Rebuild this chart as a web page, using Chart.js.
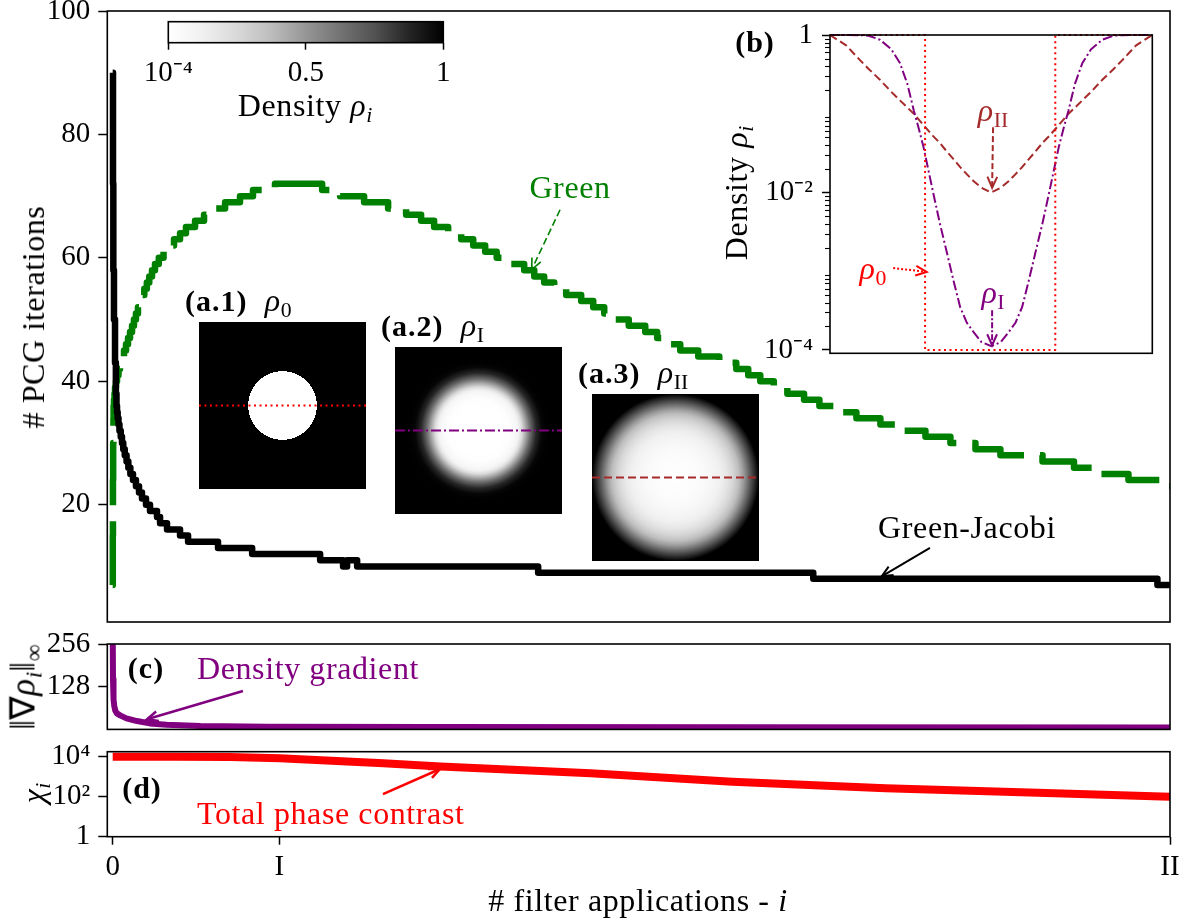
<!DOCTYPE html>
<html lang="en">
<head>
<meta charset="utf-8">
<title>PCG iterations vs filter applications</title>
<script src="https://cdn.jsdelivr.net/npm/chart.js@4.4.1/dist/chart.umd.min.js"></script>
<style>
  html, body { margin: 0; padding: 0; background: #fff; }
  #fig { position: relative; width: 1191px; height: 920px; overflow: hidden;
         font-family: 'Liberation Serif', 'Times New Roman', serif; color: #000; }
  #fig canvas { position: absolute; }
  .t { position: absolute; white-space: nowrap; line-height: 1; font-size: 32px; letter-spacing: 0.6px;
       transform: translate(-50%, -50%); }
  .t.l { transform: translate(0, -50%); }
  .t.r90 { transform: translate(-50%, -50%) rotate(-90deg); }
  .t.b, .t b { font-weight: bold; font-size: 30px; letter-spacing: 1px; }
  .t sub { font-size: 68%; vertical-align: -0.28em; line-height: 0; letter-spacing: 0; }
</style>
</head>
<body>
<div id="fig">
  <canvas id="mainChart" width="1191" height="630" style="left:0;top:0"></canvas>
  <canvas id="img0" width="167" height="167" style="left:199px;top:322px"></canvas>
  <canvas id="img1" width="167" height="167" style="left:395px;top:347px"></canvas>
  <canvas id="img2" width="167" height="167" style="left:592px;top:394px"></canvas>
  <canvas id="cbChart" width="360" height="120" style="left:130px;top:0"></canvas>
  <canvas id="insetChart" width="480" height="370" style="left:700px;top:0"></canvas>
  <canvas id="gradChart" width="1191" height="110" style="left:0;top:630px"></canvas>
  <canvas id="chiChart" width="1191" height="180" style="left:0;top:740px"></canvas>

  <div class="t r90" style="left:33px;top:317px"># PCG iterations</div>
  <div class="t l" style="left:185px;top:300px"><b>(a.1)</b>&nbsp;&nbsp;<i>ρ</i><sub>0</sub></div>
  <div class="t l" style="left:381px;top:325px"><b>(a.2)</b>&nbsp;&nbsp;<i>ρ</i><sub>I</sub></div>
  <div class="t l" style="left:578px;top:372px"><b>(a.3)</b>&nbsp;&nbsp;<i>ρ</i><sub>II</sub></div>
  <div class="t" style="left:570px;top:187px;color:#008000">Green</div>
  <div class="t" style="left:967px;top:527px">Green-Jacobi</div>
  <div class="t" style="left:305px;top:105px">Density <i>ρ<sub>i</sub></i></div>

  <div class="t b" style="left:755px;top:42px">(b)</div>
  <div class="t r90" style="left:736px;top:193px">Density <i>ρ<sub>i</sub></i></div>
  <div class="t" style="left:993px;top:110px;color:#a52a2a"><i>ρ</i><sub>II</sub></div>
  <div class="t" style="left:873px;top:268px;color:#ff0000"><i>ρ</i><sub>0</sub></div>
  <div class="t" style="left:993px;top:292px;color:#800080"><i>ρ</i><sub>I</sub></div>

  <div class="t b" style="left:146px;top:668px">(c)</div>
  <div class="t l" style="left:197px;top:668px;color:#800080">Density gradient</div>
  <div class="t r90" style="left:23px;top:687px;font-size:35px">‖∇<i>ρ<sub>i</sub></i>‖<sub>∞</sub></div>

  <div class="t b" style="left:142px;top:788px">(d)</div>
  <div class="t l" style="left:197px;top:813px;color:#ff0000">Total phase contrast</div>
  <div class="t r90" style="left:33px;top:793px"><i>χ<sub>i</sub></i></div>

  <div class="t" style="left:638px;top:900px"># filter applications - <i>i</i></div>
</div>

<script>
// 1. Data
const ITER_I = 157.6;
const ITER_II = 1000;
const X_MIN = -5.1;
const xTickValues = [0, ITER_I, ITER_II];
const xTickLabels = ['0', 'I', 'II'];

// PCG iterations, Green-Jacobi preconditioner (black)
const gjX = [0, 0.3, 0.6, 1.2, 2.2, 3.0, 3.6, 4.1, 4.7, 5.5, 6.4, 7.6, 8.8, 10.0, 11.4, 13.1, 14.8, 16.7, 19.2, 22.0,
  24.9, 27.7, 31.5, 35.3, 41.9, 44.8, 51.4, 63.7, 71.3, 99.6,
  131.9, 196.2, 217.9, 221.7, 231.2, 402.4, 662.6, 988.1, 1000];
const gjY = [90, 72, 58, 50, 43, 38, 36, 35, 34, 33, 32, 31, 30, 29, 28, 27, 26, 25, 24, 23,
  22, 21, 20, 19, 18, 17, 16, 15, 14, 13,
  12, 11, 10, 11, 10, 9, 8, 7, 7];

// PCG iterations, Green preconditioner (green, dashed)
const greenX = [0, 0.1, 0.25, 0.45, 0.7, 0.85, 1.2, 1.7, 2.2, 3.1, 4.1, 5.5, 6.9, 8.8, 10.7, 12.6, 14.5, 16.4, 18.3, 20.1,
  22.0, 23.9, 25.8, 27.9, 29.9, 32.3, 34.6, 37.2, 40.0, 43.6, 48.1, 52.8, 58.0, 63.7, 69.3, 77.9, 86.4, 96.8, 106.3, 120.4,
  132.7, 153.5,
  198.1, 215.1, 237.8, 260.5, 277.5, 291.7, 304, 317.3, 329.6, 341, 352.3, 363.2, 376, 389.2, 398.7, 408.1, 417.6, 428.9,
  443.1, 454.5, 464.9, 474.8, 488.1, 503.7, 515, 525.4, 536.8, 553.8, 573.7, 589.8, 601.1, 612.5, 625.3, 638.1, 653.9,
  668.4, 682.6, 703.4, 726.1, 746.4, 768.7, 792.3, 816, 839.6, 879.4, 909.2, 934.2, 960.7, 991, 1000];
const greenY = [7, 15, 24, 30, 34, 36, 37, 38, 39, 40, 41, 42, 43, 44, 45, 46, 47, 48, 49, 50,
  51, 52, 53, 54, 55, 56, 57, 58, 59, 60, 61, 62, 63, 64, 65, 66, 67, 68, 69, 70,
  71, 72,
  71, 70, 69, 68, 67, 66, 65, 64, 63, 62, 61, 60, 59, 58, 57, 56, 55, 54,
  53, 52, 51, 50, 49, 48, 47, 46, 45, 44, 43, 42, 41, 40, 39, 38, 37,
  36, 35, 34, 33, 32, 31, 30, 29, 28, 27, 26, 25, 24, 23, 23];
const pcgTicks = [20, 40, 60, 80, 100];

// (c) density gradient
const gradX = [0, 0.3, 0.8, 1.5, 2.5, 4, 7, 13, 23, 35, 51, 83, 146, 300, 600, 1000];
const gradY = [300, 150, 90, 70, 56, 48, 42, 33, 25, 18, 14, 10, 8, 7, 6.5, 6];
const gradTicks = [128, 256];
const gradTickLabels = ['128', '256'];

// (d) total phase contrast
const chiX = [0, 60, 111, 158, 207, 256, 310, 452, 586, 731, 875, 1000];
const chiY = [10000, 9900, 9550, 8300, 6300, 4700, 3200, 1480, 560, 263, 158, 100];
const chiTicks = [1, 100, 10000];
const chiTickLabels = ['1', '10²', '10⁴'];

// (b) density profiles along the image mid line
const profileX = [0, 0.05, 0.093, 0.12, 0.155, 0.19, 0.217, 0.24, 0.26, 0.275, 0.29, 0.32, 0.34, 0.363, 0.385, 0.404, 0.425, 0.445, 0.47, 0.5,
  0.53, 0.555, 0.575, 0.596, 0.615, 0.637, 0.66, 0.68, 0.71, 0.725, 0.74, 0.76, 0.783, 0.81, 0.845, 0.88, 0.907, 0.95, 1];
const rhoI = [1, 1, 0.995, 0.98, 0.87, 0.66, 0.44, 0.24, 0.11, 0.066, 0.038, 0.01, 0.0042, 0.0017, 7.1e-4, 3.5e-4, 2.2e-4, 1.7e-4, 1.26e-4, 1.12e-4,
  1.26e-4, 1.7e-4, 2.2e-4, 3.5e-4, 7.1e-4, 0.0017, 0.0042, 0.01, 0.038, 0.066, 0.11, 0.24, 0.44, 0.66, 0.87, 0.98, 0.995, 1, 1];
const rhoII = [1, 0.74, 0.48, 0.37, 0.27, 0.19, 0.148, 0.12, 0.1, 0.085, 0.072, 0.052, 0.043, 0.033, 0.026, 0.021, 0.017, 0.014, 0.0115, 0.01,
  0.0115, 0.014, 0.017, 0.021, 0.026, 0.033, 0.043, 0.052, 0.072, 0.085, 0.1, 0.12, 0.148, 0.19, 0.27, 0.37, 0.48, 0.74, 1];
const rho0X = [0, 0.295, 0.295, 0.699, 0.699, 1];
const rho0 = [1, 1, 1e-4, 1e-4, 1, 1];
const insetTicks = [1e-4, 1e-2, 1];
const insetTickLabels = ['10⁻⁴', '10⁻²', '1'];

// colour bar (Greys)
const greysStops = ['#ffffff', '#f0f0f0', '#d9d9d9', '#bdbdbd', '#969696', '#737373', '#525252', '#252525', '#000000'];
const cbTicks = [1e-4, 0.5, 1];
const cbTickLabels = ['10⁻⁴', '0.5', '1'];

// 2. Chart.js defaults
Chart.defaults.font.family = "'Liberation Serif', 'Times New Roman', serif";
Chart.defaults.font.size = 29;
Chart.defaults.color = '#000';
Chart.defaults.animation = false;
Chart.defaults.responsive = false;
Chart.defaults.plugins.legend.display = false;
Chart.defaults.plugins.tooltip.enabled = false;
Chart.defaults.elements.point.radius = 0;
Chart.defaults.elements.line.borderJoinStyle = 'round';

const pts = (xs, ys) => xs.map((x, i) => ({ x, y: ys[i] }));

// axes frame (drawn over the lines, like matplotlib spines)
Chart.register({
  id: 'frame',
  beforeDatasetsDraw(chart, args, opts) {
    if (!opts.fill) return;
    const { ctx, chartArea: a } = chart;
    ctx.save();
    ctx.fillStyle = opts.fill;
    ctx.fillRect(a.left, a.top, a.width, a.height);
    ctx.restore();
  },
  afterDatasetsDraw(chart) {
    const { ctx, chartArea: a } = chart;
    ctx.save();
    ctx.strokeStyle = '#000';
    ctx.lineWidth = 1.6;
    ctx.strokeRect(a.left, a.top, a.width, a.height);
    ctx.restore();
  }
});

// annotate-style arrows, given in data coordinates
function arrowPlugin(list) {
  return {
    id: 'arrows',
    afterDraw(chart) {
      const { ctx, scales: { x, y } } = chart;
      list.forEach(a => {
        const x0 = x.getPixelForValue(a.from[0]), y0 = y.getPixelForValue(a.from[1]);
        const x1 = x.getPixelForValue(a.to[0]), y1 = y.getPixelForValue(a.to[1]);
        const ang = Math.atan2(y1 - y0, x1 - x0), L = 12, w = 0.42;
        ctx.save();
        ctx.strokeStyle = a.color;
        ctx.lineWidth = a.width;
        ctx.setLineDash(a.dash || []);
        ctx.beginPath(); ctx.moveTo(x0, y0); ctx.lineTo(x1, y1); ctx.stroke();
        ctx.setLineDash([]);
        ctx.beginPath();
        ctx.moveTo(x1 - L * Math.cos(ang - w), y1 - L * Math.sin(ang - w));
        ctx.lineTo(x1, y1);
        ctx.lineTo(x1 - L * Math.cos(ang + w), y1 - L * Math.sin(ang + w));
        ctx.stroke();
        ctx.restore();
      });
    }
  };
}

function yAxis(o) {
  return Object.assign({
    afterBuildTicks: s => { s.ticks = o.values.map(v => ({ value: v })); },
    afterFit: s => { s.width = o.width || 107.3; s.paddingTop = 0; s.paddingBottom = 0; },
    ticks: { autoSkip: false, padding: o.pad || 8, callback: (v, i) => o.labels[i] },
    grid: { drawOnChartArea: false, tickLength: o.tick || 9, tickWidth: 1.5, tickColor: '#000' },
    border: { display: false }
  }, o.extra);
}

const hiddenX = { type: 'linear', min: X_MIN, max: ITER_II, display: false };

// 3. Main panel: PCG iterations
new Chart('mainChart', {
  type: 'line',
  data: {
    datasets: [
      { data: pts(gjX, gjY), borderColor: '#000', borderWidth: 6.5, stepped: true },
      { data: pts(greenX, greenY), borderColor: '#008000', borderWidth: 6.5, stepped: true,
        borderDash: [64, 16], borderCapStyle: 'butt' }
    ]
  },
  options: {
    layout: { padding: { left: 0, top: 11, right: 21, bottom: 8 } },
    scales: {
      x: hiddenX,
      y: yAxis({ values: pcgTicks, labels: pcgTicks.map(String), extra: { min: 1, max: 100 } })
    }
  },
  plugins: [arrowPlugin([
    { from: [423.1, 67.8], to: [396.3, 58.1], color: '#008000', width: 1.6, dash: [7, 3.5] },
    { from: [773.0, 13.0], to: [727.3, 8.4], color: '#000', width: 2 }
  ])]
});

// 4. Colour bar
new Chart('cbChart', {
  type: 'scatter',
  data: { datasets: [{ data: [] }] },
  options: {
    layout: { padding: { left: 38.3, top: 21.7, right: 46.7, bottom: 17.3 } },
    scales: {
      x: {
        type: 'linear', min: 1e-4, max: 1,
        afterBuildTicks: s => { s.ticks = cbTicks.map(v => ({ value: v })); },
        afterFit: s => { s.height = 60; s.paddingLeft = 0; s.paddingRight = 0; },
        ticks: { autoSkip: false, maxRotation: 0, padding: 6, callback: (v, i) => cbTickLabels[i] },
        grid: { drawOnChartArea: false, tickLength: 7, tickWidth: 1.5, tickColor: '#000' },
        border: { display: false }
      },
      y: { display: false, min: 0, max: 1 }
    }
  },
  plugins: [{
    id: 'cbBar',
    beforeDatasetsDraw(chart) {
      const { ctx, chartArea: a } = chart;
      const g = ctx.createLinearGradient(a.left, 0, a.right, 0);
      greysStops.forEach((c, i) => g.addColorStop(i / (greysStops.length - 1), c));
      ctx.fillStyle = g;
      ctx.fillRect(a.left, a.top, a.width, a.height);
    }
  }]
});

// 5. Inset (b): density profiles
const insetMinor = [];
for (let d = -4; d < 0; d++) for (let k = 2; k <= 9; k++) insetMinor.push(k * Math.pow(10, d));

new Chart('insetChart', {
  type: 'line',
  data: {
    datasets: [
      { data: pts(rho0X, rho0), borderColor: '#ff0000', borderWidth: 2, borderDash: [2, 3.5], clip: 4 },
      { data: pts(profileX, rhoI), borderColor: '#800080', borderWidth: 2, borderDash: [10, 3, 2, 3], clip: 4 },
      { data: pts(profileX, rhoII), borderColor: '#a52a2a', borderWidth: 2, borderDash: [8, 4], clip: 4 }
    ]
  },
  options: {
    layout: { padding: { left: 0, top: 35, right: 27.7, bottom: 16.7 } },
    plugins: { frame: { fill: '#fff' } },
    scales: {
      x: { type: 'linear', min: 0, max: 1, display: false },
      y: yAxis({ values: insetTicks, labels: insetTickLabels, width: 130, pad: 9, tick: 8,
                 extra: { type: 'logarithmic', min: 9.08e-5, max: 1 } })
    }
  },
  plugins: [
    arrowPlugin([
      { from: [0.506, 0.0676], to: [0.503, 0.0115], color: '#a52a2a', width: 2, dash: [6, 3] },
      { from: [0.196, 0.0011], to: [0.3, 9.8e-4], color: '#ff0000', width: 2, dash: [2, 2] },
      { from: [0.503, 3.2e-4], to: [0.503, 1.15e-4], color: '#800080', width: 2, dash: [6, 2, 2, 2] }
    ]),
    {
      id: 'minorTicks',
      afterDraw(chart) {
        const { ctx, chartArea: a, scales: { y } } = chart;
        ctx.save();
        ctx.strokeStyle = '#000';
        ctx.lineWidth = 1.1;
        insetMinor.forEach(v => {
          const py = Math.round(y.getPixelForValue(v)) + 0.5;
          ctx.beginPath(); ctx.moveTo(a.left - 5, py); ctx.lineTo(a.left, py); ctx.stroke();
        });
        ctx.restore();
      }
    }
  ]
});

// 6. Panel (c): density gradient
new Chart('gradChart', {
  type: 'line',
  data: { datasets: [{ data: pts(gradX, gradY), borderColor: '#800080', borderWidth: 6 }] },
  options: {
    layout: { padding: { left: 0, top: 14, right: 21, bottom: 10.6 } },
    scales: {
      x: hiddenX,
      y: yAxis({ values: gradTicks, labels: gradTickLabels, extra: { min: 0, max: 256 } })
    }
  },
  plugins: [arrowPlugin([
    { from: [123.2, 115], to: [32.4, 30.3], color: '#800080', width: 2.5 }
  ])]
});

// 7. Panel (d): total phase contrast
new Chart('chiChart', {
  type: 'line',
  data: { datasets: [{ data: pts(chiX, chiY), borderColor: '#ff0000', borderWidth: 8 }] },
  options: {
    layout: { padding: { left: 0, top: 11.7, right: 21, bottom: 3.3 } },
    scales: {
      x: {
        type: 'linear', min: X_MIN, max: ITER_II,
        afterBuildTicks: s => { s.ticks = xTickValues.map(v => ({ value: v })); },
        afterFit: s => { s.height = 80; s.paddingLeft = 0; s.paddingRight = 0; },
        ticks: { autoSkip: false, maxRotation: 0, padding: 5, callback: (v, i) => xTickLabels[i] },
        grid: { drawOnChartArea: false, tickLength: 8, tickWidth: 1.5, tickColor: '#000' },
        border: { display: false }
      },
      y: yAxis({ values: chiTicks, labels: chiTickLabels, extra: { type: 'logarithmic', min: 1, max: 17783 } })
    }
  },
  plugins: [arrowPlugin([
    { from: [255.6, 136], to: [309.6, 2427], color: '#ff0000', width: 2.5 }
  ])]
});

// 8. Density images (a.1)-(a.3), shaded from the inset profiles
function greys(t) {
  const n = greysStops.length - 1;
  const p = Math.min(Math.max(t, 0), 1) * n;
  const i = Math.min(Math.floor(p), n - 1), f = p - i;
  const c0 = parseInt(greysStops[i].slice(1, 3), 16), c1 = parseInt(greysStops[i + 1].slice(1, 3), 16);
  const g = Math.round(c0 + (c1 - c0) * f);
  return `rgb(${g},${g},${g})`;
}

function drawDensity(id, xs, rhos, color, dash) {
  const cv = document.getElementById(id), ctx = cv.getContext('2d');
  const W = cv.width, H = cv.height;
  const stops = [];
  xs.forEach((x, i) => { if (x <= 0.5) stops.push([(0.5 - x) / 0.5, rhos[i]]); });
  stops.sort((a, b) => a[0] - b[0] || a[1] - b[1]);
  const grad = ctx.createRadialGradient(W / 2, H / 2, 0, W / 2, H / 2, W / 2);
  if (stops[0][0] > 0) grad.addColorStop(0, greys(stops[0][1]));
  stops.forEach(s => grad.addColorStop(s[0], greys(s[1])));
  ctx.fillStyle = grad;
  ctx.fillRect(0, 0, W, H);
  ctx.strokeStyle = color;
  ctx.lineWidth = 2;
  ctx.setLineDash(dash);
  ctx.beginPath(); ctx.moveTo(0, H / 2); ctx.lineTo(W, H / 2); ctx.stroke();
}

drawDensity('img0', rho0X, rho0, '#ff0000', [2, 3.5]);
drawDensity('img1', profileX, rhoI, '#800080', [10, 3, 2, 3]);
drawDensity('img2', profileX, rhoII, '#a52a2a', [8, 4]);
</script>
</body>
</html>
